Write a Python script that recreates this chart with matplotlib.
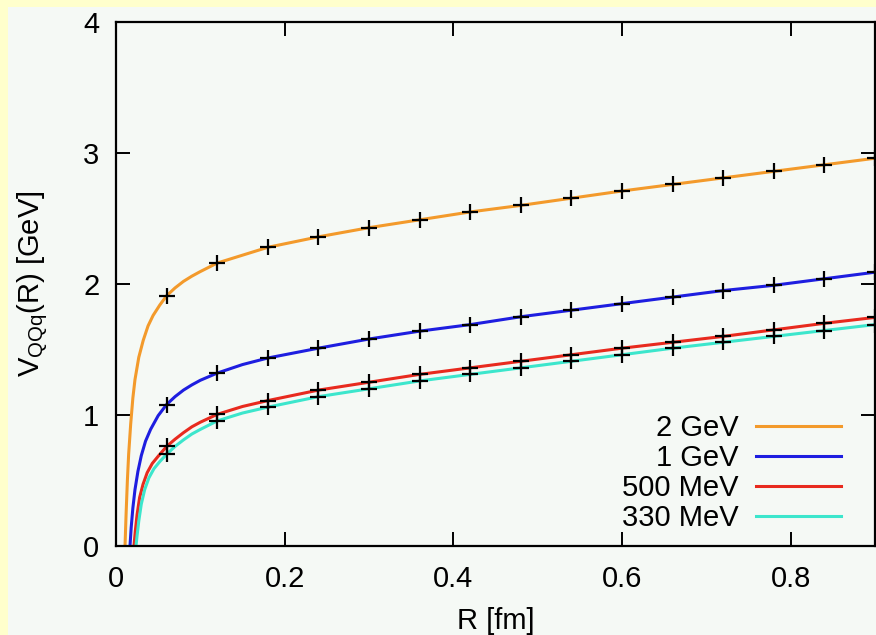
import matplotlib
matplotlib.use("Agg")
import matplotlib.pyplot as plt
import matplotlib.patches as mpatches

plt.rcParams.update({
    "font.family": ["Liberation Sans", "DejaVu Sans"],
    "font.size": 21,
    "mathtext.default": "regular",
})

_BG_OUT = "#FFFFCC"
_BG_IN = "#F5F9F5"

labels = ["2 GeV", "1 GeV", "500 MeV", "330 MeV"]
colors = ["#F39A2B", "#1E1EE0", "#E82A1E", "#3CE6CC"]

# curve samples (R in fm, V in GeV)
r_tail = [0.24, 0.30, 0.36, 0.42, 0.48, 0.54, 0.60, 0.66, 0.72, 0.78, 0.84, 0.90]

r_2gev = [0.0107, 0.012, 0.0135, 0.015, 0.0174, 0.020, 0.0225, 0.027, 0.0323,
          0.038, 0.044, 0.052, 0.06, 0.07, 0.08, 0.09, 0.10, 0.12, 0.15, 0.18] + r_tail
v_2gev = [0.0, 0.25, 0.50, 0.70, 0.93, 1.13, 1.27, 1.44, 1.57,
          1.68, 1.76, 1.84, 1.91, 1.97, 2.02, 2.06, 2.095, 2.16, 2.22, 2.28,
          2.36, 2.43, 2.49, 2.55, 2.60, 2.655, 2.71, 2.76, 2.81, 2.86, 2.91, 2.96]

r_1gev = [0.0166, 0.018, 0.020, 0.0225, 0.026, 0.030, 0.035, 0.041, 0.05,
          0.06, 0.07, 0.08, 0.09, 0.10, 0.12, 0.15, 0.18] + r_tail
v_1gev = [0.0, 0.14, 0.29, 0.43, 0.57, 0.69, 0.80, 0.89, 0.995,
          1.08, 1.14, 1.19, 1.23, 1.265, 1.32, 1.385, 1.435,
          1.51, 1.58, 1.64, 1.69, 1.75, 1.80, 1.85, 1.90, 1.95, 1.99, 2.04, 2.09]

r_500 = [0.0213, 0.023, 0.025, 0.028, 0.032, 0.037, 0.043, 0.05,
         0.06, 0.07, 0.08, 0.09, 0.10, 0.12, 0.15, 0.18] + r_tail
v_500 = [0.0, 0.12, 0.24, 0.37, 0.47, 0.56, 0.63, 0.685,
         0.76, 0.815, 0.865, 0.91, 0.945, 1.005, 1.065, 1.11,
         1.19, 1.25, 1.31, 1.36, 1.41, 1.46, 1.51, 1.555, 1.60, 1.65, 1.70, 1.745]

r_330 = [0.0237, 0.025, 0.027, 0.030, 0.034, 0.039, 0.045, 0.052,
         0.06, 0.07, 0.08, 0.09, 0.10, 0.12, 0.15, 0.18] + r_tail
v_330 = [0.0, 0.08, 0.19, 0.32, 0.43, 0.52, 0.59, 0.645,
         0.70, 0.76, 0.81, 0.855, 0.89, 0.955, 1.015, 1.06,
         1.14, 1.20, 1.26, 1.31, 1.36, 1.41, 1.46, 1.51, 1.555, 1.60, 1.645, 1.69]

# lattice-like points (every 0.06 fm)
r_pts = [0.06, 0.12, 0.18, 0.24, 0.30, 0.36, 0.42, 0.48, 0.54, 0.60, 0.66, 0.72, 0.78, 0.84, 0.90]
p_2gev = [1.91, 2.16, 2.28, 2.36, 2.43, 2.49, 2.55, 2.60, 2.655, 2.71, 2.76, 2.81, 2.86, 2.91, 2.96]
p_1gev = [1.08, 1.32, 1.435, 1.51, 1.58, 1.64, 1.69, 1.75, 1.80, 1.85, 1.90, 1.95, 1.99, 2.04, 2.09]
p_500 = [0.76, 1.005, 1.11, 1.19, 1.25, 1.31, 1.36, 1.41, 1.46, 1.51, 1.555, 1.60, 1.65, 1.70, 1.745]
p_330 = [0.70, 0.955, 1.06, 1.14, 1.20, 1.26, 1.31, 1.36, 1.41, 1.46, 1.51, 1.555, 1.60, 1.645, 1.69]

curves = [(r_2gev, v_2gev), (r_1gev, v_1gev), (r_500, v_500), (r_330, v_330)]
points = [p_2gev, p_1gev, p_500, p_330]

fig = plt.figure(figsize=(8.76, 6.35), dpi=100, facecolor=_BG_OUT)
inner = mpatches.Rectangle((8 / 876, 0), 1, 1 - 7 / 635, transform=fig.transFigure,
                           facecolor=_BG_IN, edgecolor="none")
inner.set_zorder(-10)
fig.patches.append(inner)
ax = fig.add_axes([116 / 876, 89 / 635, 759 / 876, 524 / 635], facecolor=_BG_IN)

for (rr, vv), lbl, col in zip(curves, labels, colors):
    ax.plot(rr, vv, color=col, lw=2.2, label=lbl, zorder=2)
for pp in points:
    ax.plot(r_pts, pp, ls="none", marker="+", ms=11, mew=1.6, color="black", zorder=3)

ax.set_xlim(0, 0.9)
ax.set_ylim(0, 4)
ax.set_xticks([0, 0.2, 0.4, 0.6, 0.8])
ax.set_xticklabels(["0", "0.2", "0.4", "0.6", "0.8"])
ax.set_yticks([0, 1, 2, 3, 4])
ax.tick_params(direction="in", length=10, width=1.4, top=True, right=True)
ax.tick_params(axis="x", pad=14)
ax.tick_params(axis="y", pad=12)
for s in ax.spines.values():
    s.set_linewidth(1.6)

ax.set_xlabel("R [fm]", labelpad=10)
ax.set_ylabel("V$_{QQq}$(R) [GeV]", labelpad=24)

ax.legend(loc="lower right", bbox_to_anchor=((841 - 116) / 759, 14 / 524),
          frameon=False, markerfirst=False, handlelength=2.9, handletextpad=0.6,
          labelspacing=0.07, borderpad=0, borderaxespad=0, fontsize=21)

fig.savefig("out.png", dpi=100, facecolor=fig.get_facecolor())
